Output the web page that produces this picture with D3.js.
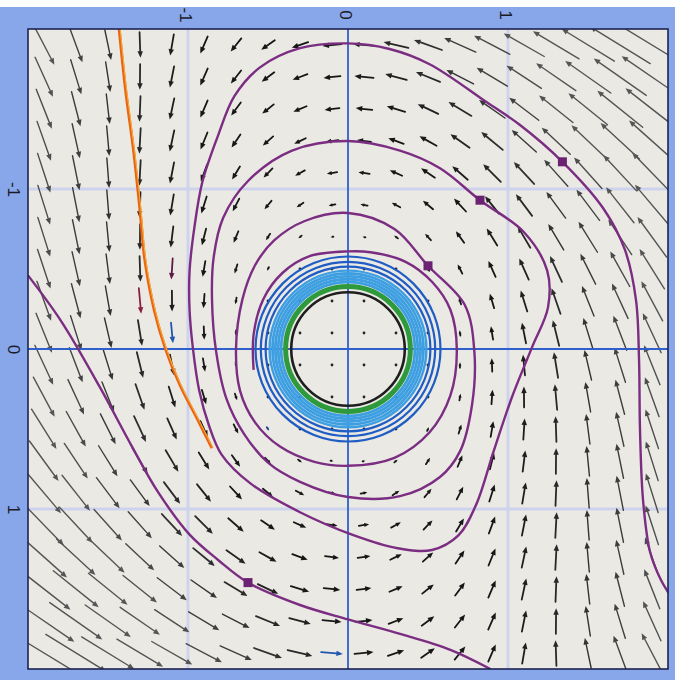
<!DOCTYPE html>
<html>
<head>
<meta charset="utf-8">
<script src="https://cdn.jsdelivr.net/npm/d3@7"></script>
<style>
  body { margin: 0; background: #ffffff; }
  svg { display: block; }
</style>
</head>
<body>
<svg id="chart" width="675" height="680"></svg>
<script>
// ---- axes ----
const tickValues = [-1, 0, 1];
const domainMin = -2, domainMax = 2;

// ---- direction-field sample points (same along both axes) ----
const gridCoords = [-1.9, -1.7, -1.5, -1.3, -1.1, -0.9, -0.7, -0.5, -0.3, -0.1,
                     0.1,  0.3,  0.5,  0.7,  0.9,  1.1,  1.3,  1.5,  1.7,  1.9];

// ---- model: u' = b*v - m*u^3 - k*u*v^2,  v' = -u ----
const rotationB = 0.56;
const cubicM = 0.12;
const dampingK = 0.18;
const coreRadius = 0.8;   // the field fades out towards the cycle in the middle

// ---- closed orbits around the centre (radius, colour, width) ----
const ringRadii  = [0.355, 0.39, 0.418, 0.436, 0.454, 0.472, 0.49, 0.515, 0.545, 0.578];
const ringColors = ["#1e1e1e", "#2f9a3c", "#3d9fe2", "#3d9fe2", "#3d9fe2", "#3d9fe2", "#3d9fe2",
                    "#1f5cc4", "#1f5cc4", "#1f5cc4"];
const ringWidths = [2.6, 5, 2.8, 2.8, 2.8, 2.8, 2.4, 2.2, 2.2, 2.2];

// ---- spiralling trajectory (u, v), entering at the right edge ----
const spiralU = [2.025, 1.956, 1.888, 1.844, 1.825, 1.819, 1.80, 1.731, 1.594, 1.34, 1.075, 0.87, 0.51, 0.26, 0,
  -0.30, -0.55, -0.71, -0.81, -0.91, -0.96, -0.99, -0.99, -0.97, -0.93, -0.87, -0.79, -0.61,
  -0.30, 0.025, 0.31, 0.525, 0.69, 0.80, 0.91, 1.025, 1.15, 1.25, 1.245, 1.10, 0.825,
  0.575, 0.325, 0, -0.35, -0.625, -0.78, -0.84, -0.85, -0.825, -0.76, -0.65, -0.50, -0.30,
  0, 0.325, 0.575, 0.70, 0.775, 0.79, 0.73, 0.50,
  0.29, 0, -0.27, -0.46, -0.58, -0.66, -0.70, -0.675, -0.58, -0.425, -0.21, 0, 0.29, 0.51,
  0.64, 0.68, 0.64, 0.525, 0.36, 0.14, 0, -0.24, -0.41, -0.53, -0.59, -0.59];
const spiralV = [1.556, 1.444, 1.269, 0.944, 0.506, 0.069, -0.306, -0.619, -0.881, -1.17, -1.40, -1.54, -1.78, -1.875, -1.91,
  -1.88, -1.76, -1.58, -1.34, -1.045, -0.76, -0.49, -0.24, -0.01, 0.26, 0.475, 0.66, 0.84,
  1.02, 1.16, 1.245, 1.256, 1.165, 0.975, 0.64, 0.30, -0.01, -0.26, -0.49, -0.73, -0.93,
  -1.13, -1.24, -1.30, -1.24, -1.05, -0.82, -0.57, -0.31, 0.01, 0.31, 0.53, 0.71, 0.83,
  0.925, 0.92, 0.80, 0.64, 0.35, 0.02, -0.275, -0.52,
  -0.75, -0.85, -0.80, -0.68, -0.525, -0.31, 0, 0.26, 0.46, 0.61, 0.705, 0.73, 0.68, 0.52,
  0.29, 0, -0.245, -0.42, -0.545, -0.605, -0.61, -0.58, -0.475, -0.31, -0.09, 0.13];

// ---- lower-left trajectory ----
const lowerU = [-2.0, -1.79, -1.55, -1.35, -1.19, -0.99, -0.81, -0.625, -0.30, 0, 0.325, 0.64, 0.89];
const lowerV = [-0.46, -0.17, 0.24, 0.61, 0.89, 1.16, 1.32, 1.46, 1.60, 1.69, 1.78, 1.88, 2.0];

// ---- orange trajectory on the left ----
const orangeU = [-1.43, -1.39, -1.34, -1.30, -1.27, -1.21, -1.14, -1.05, -0.94, -0.85];
const orangeV = [-2.0, -1.62, -1.24, -0.87, -0.56, -0.24, 0.0, 0.225, 0.44, 0.62];

// ---- initial points ----
const startU = [1.34, 0.825, 0.50, -0.625];
const startV = [-1.17, -0.93, -0.52, 1.46];

// ---- tinted field arrows (u, v, colour) ----
const tintU = [-1.3, -1.1, -1.1, -0.5, -0.1];
const tintV = [-0.3, -0.5, -0.1, 0.5, 1.9];
const tintColor = ["#8c1f3c", "#5c1a45", "#1f56b0", "#1c3f8e", "#1f56b0"];

// ================= drawing =================
const svg = d3.select("#chart");
const W = 675, H = 680;
const plot = { left: 28, right: 668, top: 29, bottom: 669 };

const sx = d3.scaleLinear().domain([domainMin, domainMax]).range([plot.left, plot.right]);
const sy = d3.scaleLinear().domain([domainMin, domainMax]).range([plot.top, plot.bottom]);

// frame
svg.append("rect").attr("x", 0).attr("y", 0).attr("width", W).attr("height", H).attr("fill", "#ffffff");
svg.append("rect").attr("x", 0).attr("y", 7).attr("width", W).attr("height", H - 7).attr("fill", "#88a6ea");

svg.append("clipPath").attr("id", "plotClip")
  .append("rect")
  .attr("x", plot.left).attr("y", plot.top)
  .attr("width", plot.right - plot.left).attr("height", plot.bottom - plot.top);

svg.append("rect")
  .attr("x", plot.left).attr("y", plot.top)
  .attr("width", plot.right - plot.left).attr("height", plot.bottom - plot.top)
  .attr("fill", "#eae9e4");

const g = svg.append("g").attr("clip-path", "url(#plotClip)");

// grid lines at +-1
const gridVals = tickValues.filter(d => d !== 0);
g.selectAll("line.gv").data(gridVals).join("line")
  .attr("x1", d => sx(d)).attr("x2", d => sx(d))
  .attr("y1", plot.top).attr("y2", plot.bottom)
  .attr("stroke", "#cdd3ec").attr("stroke-width", 3);
g.selectAll("line.gh").data(gridVals).join("line")
  .attr("y1", d => sy(d)).attr("y2", d => sy(d))
  .attr("x1", plot.left).attr("x2", plot.right)
  .attr("stroke", "#cdd3ec").attr("stroke-width", 3);

// direction field
function field(u, v) {
  const du = rotationB * v - cubicM * u * u * u - dampingK * u * v * v;
  const dv = -u;
  const r = Math.hypot(u, v);
  const fade = 1 - Math.exp(-Math.pow(r / coreRadius, 4));
  return [du * fade, dv * fade];
}

// arrow length grows a little faster than the speed
const lengthScale = d3.scalePow().exponent(1.12).domain([0, 1]).range([0, 19]);
const tintKey = new Map(tintU.map((u, i) => [`${u},${tintV[i]}`, tintColor[i]]));
const arrows = [];
gridCoords.forEach(v => gridCoords.forEach(u => {
  const [du, dv] = field(u, v);
  arrows.push({ u, v, du, dv, len: lengthScale(Math.hypot(du, dv)) });
}));

const arrowColor = d3.scaleLinear().domain([18, 45]).range(["#161616", "#555555"]).clamp(true);
const arrowG = g.append("g");
arrows.forEach(a => {
  const cx = sx(a.u), cy = sy(a.v);
  const col = tintKey.get(`${a.u},${a.v}`) || arrowColor(a.len);
  if (a.len < 2.2) {
    arrowG.append("circle").attr("cx", cx).attr("cy", cy).attr("r", 1.4).attr("fill", "#222");
    return;
  }
  const n = Math.hypot(a.du, a.dv);
  const ux = a.du / n, uy = a.dv / n;
  const x0 = cx - ux * a.len / 2, y0 = cy - uy * a.len / 2;
  const x1 = cx + ux * a.len / 2, y1 = cy + uy * a.len / 2;
  const hl = Math.min(6.5, 1.8 + a.len * 0.3);
  const hw = hl * 0.42;
  const bx = x1 - ux * hl, by = y1 - uy * hl;
  arrowG.append("line")
    .attr("x1", x0).attr("y1", y0).attr("x2", bx).attr("y2", by)
    .attr("stroke", col).attr("stroke-width", a.len > 30 ? 1.4 : 1.8).attr("stroke-linecap", "round");
  arrowG.append("path")
    .attr("d", `M${x1},${y1}L${bx - uy * hw},${by + ux * hw}L${bx + uy * hw},${by - ux * hw}Z`)
    .attr("fill", col);
});

// axes through the origin
g.append("line").attr("x1", sx(0)).attr("x2", sx(0)).attr("y1", plot.top).attr("y2", plot.bottom)
  .attr("stroke", "#2e5fcc").attr("stroke-width", 1.8);
g.append("line").attr("y1", sy(0)).attr("y2", sy(0)).attr("x1", plot.left).attr("x2", plot.right)
  .attr("stroke", "#2e5fcc").attr("stroke-width", 1.8);

// closed orbits
const rPx = r => sx(r) - sx(0);
ringRadii.forEach((r, i) => {
  g.append("circle")
    .attr("cx", sx(0)).attr("cy", sy(0)).attr("r", rPx(r))
    .attr("fill", "none").attr("stroke", ringColors[i]).attr("stroke-width", ringWidths[i]);
});

// trajectories
const line = d3.line().x(d => sx(d[0])).y(d => sy(d[1])).curve(d3.curveCatmullRom.alpha(0.5));
const zip = (a, b) => a.map((d, i) => [d, b[i]]);

g.append("path").attr("d", line(zip(spiralU, spiralV)))
  .attr("fill", "none").attr("stroke", "#7b2d82").attr("stroke-width", 2.4);
g.append("path").attr("d", line(zip(lowerU, lowerV)))
  .attr("fill", "none").attr("stroke", "#7b2d82").attr("stroke-width", 2.4);
g.append("path").attr("d", line(zip(orangeU, orangeV)))
  .attr("fill", "none").attr("stroke", "#ea6512").attr("stroke-width", 3);
g.append("path").attr("d", line(zip(orangeU, orangeV)))
  .attr("fill", "none").attr("stroke", "#f6b23c").attr("stroke-width", 1).attr("transform", "translate(1,0)");

// initial points
g.selectAll("rect.start").data(zip(startU, startV)).join("rect")
  .attr("x", d => sx(d[0]) - 4.5).attr("y", d => sy(d[1]) - 4.5)
  .attr("width", 9).attr("height", 9)
  .attr("fill", "#6b2273");

// plot border
svg.append("rect")
  .attr("x", plot.left).attr("y", plot.top)
  .attr("width", plot.right - plot.left).attr("height", plot.bottom - plot.top)
  .attr("fill", "none").attr("stroke", "#1d2450").attr("stroke-width", 1.6);

// tick labels, turned a quarter turn
const topAxis = svg.append("g").attr("transform", `translate(0,${plot.top})`)
  .call(d3.axisTop(sx).tickValues(tickValues).tickSize(0).tickFormat(d => String(d)));
const leftAxis = svg.append("g").attr("transform", `translate(${plot.left},0)`)
  .call(d3.axisLeft(sy).tickValues(tickValues).tickSize(0).tickFormat(d => String(d)));
[topAxis, leftAxis].forEach(ax => {
  ax.select(".domain").remove();
  ax.selectAll("text")
    .attr("x", null).attr("y", null).attr("dy", "0.35em")
    .attr("text-anchor", "middle")
    .attr("fill", "#1b1b28")
    .style("font-family", "'Liberation Sans', Arial, sans-serif")
    .style("font-size", "17px");
});
topAxis.selectAll("text").attr("transform", "translate(-3,-14) rotate(90)");
leftAxis.selectAll("text").attr("transform", "translate(-14,0) rotate(90)");
</script>
</body>
</html>
